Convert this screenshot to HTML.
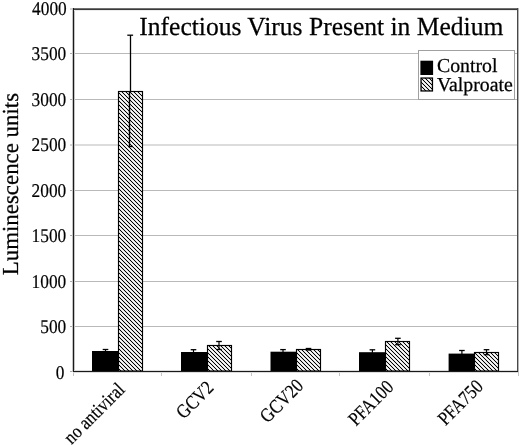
<!DOCTYPE html><html><head><meta charset="utf-8"><style>html,body{margin:0;padding:0;background:#fff;width:520px;height:445px;overflow:hidden}svg{display:block;filter:grayscale(1)}text{font-family:"Liberation Serif",serif;fill:#000;text-rendering:geometricPrecision;stroke:#000;stroke-width:0.25px}</style></head><body>
<svg width="520" height="445" viewBox="0 0 520 445">
<defs><pattern id="h0" width="4" height="4" patternUnits="userSpaceOnUse" patternTransform="translate(3,0)"><rect width="4" height="4" fill="#fff"/><rect x="0" y="0" width="1" height="1" fill="#000"/><rect x="1" y="0" width="1" height="1" fill="#dadada"/><rect x="3" y="0" width="1" height="1" fill="#dadada"/><rect x="1" y="1" width="1" height="1" fill="#000"/><rect x="2" y="1" width="1" height="1" fill="#dadada"/><rect x="0" y="1" width="1" height="1" fill="#dadada"/><rect x="2" y="2" width="1" height="1" fill="#000"/><rect x="3" y="2" width="1" height="1" fill="#dadada"/><rect x="1" y="2" width="1" height="1" fill="#dadada"/><rect x="3" y="3" width="1" height="1" fill="#000"/><rect x="0" y="3" width="1" height="1" fill="#dadada"/><rect x="2" y="3" width="1" height="1" fill="#dadada"/></pattern><pattern id="h1" width="4" height="4" patternUnits="userSpaceOnUse" patternTransform="translate(118,0)"><rect width="4" height="4" fill="#fff"/><rect x="0" y="0" width="1" height="1" fill="#000"/><rect x="1" y="0" width="1" height="1" fill="#dadada"/><rect x="3" y="0" width="1" height="1" fill="#dadada"/><rect x="1" y="1" width="1" height="1" fill="#000"/><rect x="2" y="1" width="1" height="1" fill="#dadada"/><rect x="0" y="1" width="1" height="1" fill="#dadada"/><rect x="2" y="2" width="1" height="1" fill="#000"/><rect x="3" y="2" width="1" height="1" fill="#dadada"/><rect x="1" y="2" width="1" height="1" fill="#dadada"/><rect x="3" y="3" width="1" height="1" fill="#000"/><rect x="0" y="3" width="1" height="1" fill="#dadada"/><rect x="2" y="3" width="1" height="1" fill="#dadada"/></pattern><pattern id="h2" width="4" height="4" patternUnits="userSpaceOnUse" patternTransform="translate(207,0)"><rect width="4" height="4" fill="#fff"/><rect x="0" y="0" width="1" height="1" fill="#000"/><rect x="1" y="0" width="1" height="1" fill="#dadada"/><rect x="3" y="0" width="1" height="1" fill="#dadada"/><rect x="1" y="1" width="1" height="1" fill="#000"/><rect x="2" y="1" width="1" height="1" fill="#dadada"/><rect x="0" y="1" width="1" height="1" fill="#dadada"/><rect x="2" y="2" width="1" height="1" fill="#000"/><rect x="3" y="2" width="1" height="1" fill="#dadada"/><rect x="1" y="2" width="1" height="1" fill="#dadada"/><rect x="3" y="3" width="1" height="1" fill="#000"/><rect x="0" y="3" width="1" height="1" fill="#dadada"/><rect x="2" y="3" width="1" height="1" fill="#dadada"/></pattern><pattern id="h3" width="4" height="4" patternUnits="userSpaceOnUse" patternTransform="translate(296,0)"><rect width="4" height="4" fill="#fff"/><rect x="0" y="0" width="1" height="1" fill="#000"/><rect x="1" y="0" width="1" height="1" fill="#dadada"/><rect x="3" y="0" width="1" height="1" fill="#dadada"/><rect x="1" y="1" width="1" height="1" fill="#000"/><rect x="2" y="1" width="1" height="1" fill="#dadada"/><rect x="0" y="1" width="1" height="1" fill="#dadada"/><rect x="2" y="2" width="1" height="1" fill="#000"/><rect x="3" y="2" width="1" height="1" fill="#dadada"/><rect x="1" y="2" width="1" height="1" fill="#dadada"/><rect x="3" y="3" width="1" height="1" fill="#000"/><rect x="0" y="3" width="1" height="1" fill="#dadada"/><rect x="2" y="3" width="1" height="1" fill="#dadada"/></pattern><pattern id="h4" width="4" height="4" patternUnits="userSpaceOnUse" patternTransform="translate(385,0)"><rect width="4" height="4" fill="#fff"/><rect x="0" y="0" width="1" height="1" fill="#000"/><rect x="1" y="0" width="1" height="1" fill="#dadada"/><rect x="3" y="0" width="1" height="1" fill="#dadada"/><rect x="1" y="1" width="1" height="1" fill="#000"/><rect x="2" y="1" width="1" height="1" fill="#dadada"/><rect x="0" y="1" width="1" height="1" fill="#dadada"/><rect x="2" y="2" width="1" height="1" fill="#000"/><rect x="3" y="2" width="1" height="1" fill="#dadada"/><rect x="1" y="2" width="1" height="1" fill="#dadada"/><rect x="3" y="3" width="1" height="1" fill="#000"/><rect x="0" y="3" width="1" height="1" fill="#dadada"/><rect x="2" y="3" width="1" height="1" fill="#dadada"/></pattern><pattern id="h5" width="4" height="4" patternUnits="userSpaceOnUse" patternTransform="translate(474,0)"><rect width="4" height="4" fill="#fff"/><rect x="0" y="0" width="1" height="1" fill="#000"/><rect x="1" y="0" width="1" height="1" fill="#dadada"/><rect x="3" y="0" width="1" height="1" fill="#dadada"/><rect x="1" y="1" width="1" height="1" fill="#000"/><rect x="2" y="1" width="1" height="1" fill="#dadada"/><rect x="0" y="1" width="1" height="1" fill="#dadada"/><rect x="2" y="2" width="1" height="1" fill="#000"/><rect x="3" y="2" width="1" height="1" fill="#dadada"/><rect x="1" y="2" width="1" height="1" fill="#dadada"/><rect x="3" y="3" width="1" height="1" fill="#000"/><rect x="0" y="3" width="1" height="1" fill="#dadada"/><rect x="2" y="3" width="1" height="1" fill="#dadada"/></pattern></defs>
<line x1="74" y1="326.5" x2="517" y2="326.5" stroke="#b9b9b9" stroke-width="1"/>
<line x1="74" y1="281.5" x2="517" y2="281.5" stroke="#b9b9b9" stroke-width="1"/>
<line x1="74" y1="235.5" x2="517" y2="235.5" stroke="#b9b9b9" stroke-width="1"/>
<line x1="74" y1="190.5" x2="517" y2="190.5" stroke="#b9b9b9" stroke-width="1"/>
<line x1="74" y1="145.0" x2="517" y2="145.0" stroke="#b9b9b9" stroke-width="1"/>
<line x1="74" y1="99.5" x2="517" y2="99.5" stroke="#b9b9b9" stroke-width="1"/>
<line x1="74" y1="53.5" x2="517" y2="53.5" stroke="#b9b9b9" stroke-width="1"/>
<line x1="70" y1="326.5" x2="73" y2="326.5" stroke="#aaa" stroke-width="1"/>
<line x1="70" y1="281.5" x2="73" y2="281.5" stroke="#aaa" stroke-width="1"/>
<line x1="70" y1="235.5" x2="73" y2="235.5" stroke="#aaa" stroke-width="1"/>
<line x1="70" y1="190.5" x2="73" y2="190.5" stroke="#aaa" stroke-width="1"/>
<line x1="70" y1="145.0" x2="73" y2="145.0" stroke="#aaa" stroke-width="1"/>
<line x1="70" y1="99.5" x2="73" y2="99.5" stroke="#aaa" stroke-width="1"/>
<line x1="70" y1="53.5" x2="73" y2="53.5" stroke="#aaa" stroke-width="1"/>
<line x1="70" y1="9.0" x2="73" y2="9.0" stroke="#aaa" stroke-width="1"/>
<line x1="70" y1="371.5" x2="73" y2="371.5" stroke="#aaa" stroke-width="1"/>
<line x1="73.5" y1="372" x2="73.5" y2="376" stroke="#c4c4c4" stroke-width="1"/>
<line x1="161.5" y1="372" x2="161.5" y2="376" stroke="#c4c4c4" stroke-width="1"/>
<line x1="251.5" y1="372" x2="251.5" y2="376" stroke="#c4c4c4" stroke-width="1"/>
<line x1="339.5" y1="372" x2="339.5" y2="376" stroke="#c4c4c4" stroke-width="1"/>
<line x1="429.5" y1="372" x2="429.5" y2="376" stroke="#c4c4c4" stroke-width="1"/>
<line x1="518.5" y1="372" x2="518.5" y2="376" stroke="#c4c4c4" stroke-width="1"/>
<rect x="74" y="10" width="1" height="361" fill="#c4c4c4"/>
<rect x="74" y="370" width="443" height="1" fill="#dadada"/>
<rect x="73" y="10" width="444" height="1" fill="#ececec"/>
<rect x="418.5" y="50.5" width="96" height="49" fill="#fff" stroke="#a0a0a0" stroke-width="1"/>
<rect x="420.4" y="60.7" width="12.7" height="14.3" fill="#000"/>
<rect x="421.05" y="78.05" width="11.4" height="12.9" fill="url(#h0)" stroke="#000" stroke-width="1.3"/>
<text x="437" y="72.3" font-size="19.8">Control</text>
<text x="437" y="90.8" font-size="19.8">Valproate</text>
<rect x="92" y="351" width="26.5" height="20" fill="#000"/>
<rect x="118.5" y="91.5" width="24" height="279.5" fill="url(#h1)" stroke="#000" stroke-width="1.15"/>
<line x1="105.5" y1="349.5" x2="105.5" y2="351.5" stroke="#000" stroke-width="1.2"/>
<line x1="102.7" y1="349.5" x2="108.3" y2="349.5" stroke="#000" stroke-width="1.3"/>
<line x1="130.5" y1="35.2" x2="130.5" y2="92" stroke="#000" stroke-width="1.3"/>
<line x1="129.5" y1="91" x2="129.5" y2="146.5" stroke="#000" stroke-width="1.4"/>
<line x1="127.3" y1="35.2" x2="133.1" y2="35.2" stroke="#000" stroke-width="1.3"/>
<line x1="128" y1="146.5" x2="133" y2="146.5" stroke="#000" stroke-width="1.4"/>
<rect x="181" y="352" width="26.5" height="19" fill="#000"/>
<rect x="207.5" y="345.5" width="24" height="25.5" fill="url(#h2)" stroke="#000" stroke-width="1.15"/>
<line x1="193.5" y1="349.7" x2="193.5" y2="352.5" stroke="#000" stroke-width="1.2"/>
<line x1="190.7" y1="349.7" x2="196.3" y2="349.7" stroke="#000" stroke-width="1.3"/>
<line x1="219" y1="341.5" x2="219" y2="349.5" stroke="#000" stroke-width="1.2"/>
<line x1="216.2" y1="341.5" x2="221.8" y2="341.5" stroke="#000" stroke-width="1.3"/>
<line x1="216.2" y1="349.5" x2="221.8" y2="349.5" stroke="#000" stroke-width="1.3"/>
<rect x="270.5" y="351.7" width="26.0" height="19.30000000000001" fill="#000"/>
<rect x="296.5" y="349.5" width="24" height="21.5" fill="url(#h3)" stroke="#000" stroke-width="1.15"/>
<line x1="283" y1="349.6" x2="283" y2="352.2" stroke="#000" stroke-width="1.2"/>
<line x1="280.2" y1="349.6" x2="285.8" y2="349.6" stroke="#000" stroke-width="1.3"/>
<line x1="308.5" y1="348.5" x2="308.5" y2="350" stroke="#000" stroke-width="1.2"/>
<line x1="305.7" y1="348.5" x2="311.3" y2="348.5" stroke="#000" stroke-width="1.3"/>
<line x1="305.7" y1="350" x2="311.3" y2="350" stroke="#000" stroke-width="1.3"/>
<rect x="359" y="352.2" width="26.5" height="18.80000000000001" fill="#000"/>
<rect x="385.5" y="341.5" width="24" height="29.5" fill="url(#h4)" stroke="#000" stroke-width="1.15"/>
<line x1="372.4" y1="349.8" x2="372.4" y2="352.7" stroke="#000" stroke-width="1.2"/>
<line x1="369.59999999999997" y1="349.8" x2="375.2" y2="349.8" stroke="#000" stroke-width="1.3"/>
<line x1="397.9" y1="338.3" x2="397.9" y2="344.7" stroke="#000" stroke-width="1.2"/>
<line x1="395.09999999999997" y1="338.3" x2="400.7" y2="338.3" stroke="#000" stroke-width="1.3"/>
<line x1="395.09999999999997" y1="344.7" x2="400.7" y2="344.7" stroke="#000" stroke-width="1.3"/>
<rect x="448.6" y="353.6" width="25.899999999999977" height="17.399999999999977" fill="#000"/>
<rect x="474.5" y="352.5" width="24" height="18.5" fill="url(#h5)" stroke="#000" stroke-width="1.15"/>
<line x1="461.9" y1="350.5" x2="461.9" y2="354.1" stroke="#000" stroke-width="1.2"/>
<line x1="459.09999999999997" y1="350.5" x2="464.7" y2="350.5" stroke="#000" stroke-width="1.3"/>
<line x1="486.5" y1="349.7" x2="486.5" y2="354.7" stroke="#000" stroke-width="1.2"/>
<line x1="483.7" y1="349.7" x2="489.3" y2="349.7" stroke="#000" stroke-width="1.3"/>
<line x1="483.7" y1="354.7" x2="489.3" y2="354.7" stroke="#000" stroke-width="1.3"/>
<rect x="73" y="8" width="445" height="1" fill="#707070"/>
<rect x="73" y="9" width="445" height="1" fill="#3a3a3a"/>
<rect x="517" y="8" width="1" height="364" fill="#484848"/>
<rect x="518" y="8" width="1" height="364" fill="#b4b4b4"/>
<rect x="72" y="8" width="1" height="364" fill="#c4c4c4"/>
<rect x="73" y="8" width="1" height="364" fill="#1a1a1a"/>
<rect x="73" y="372" width="445" height="1" fill="#dcdcdc"/>
<rect x="73" y="371" width="445" height="1" fill="#1a1a1a"/>
<text x="139.3" y="35.0" font-size="26" textLength="364" lengthAdjust="spacingAndGlyphs">Infectious Virus Present in Medium</text>
<text font-size="19.5" style="stroke-width:0.2px" text-anchor="end" transform="translate(64.36 378.83) scale(0.89 1)">0</text>
<text font-size="19.5" style="stroke-width:0.2px" text-anchor="end" transform="translate(66.26 333.08) scale(0.89 1)">500</text>
<text font-size="19.5" style="stroke-width:0.2px" text-anchor="end" transform="translate(66.26 288.08) scale(0.89 1)">1000</text>
<text font-size="19.5" style="stroke-width:0.2px" text-anchor="end" transform="translate(66.26 242.08) scale(0.89 1)">1500</text>
<text font-size="19.5" style="stroke-width:0.2px" text-anchor="end" transform="translate(66.26 196.88) scale(0.89 1)">2000</text>
<text font-size="19.5" style="stroke-width:0.2px" text-anchor="end" transform="translate(66.26 150.98) scale(0.89 1)">2500</text>
<text font-size="19.5" style="stroke-width:0.2px" text-anchor="end" transform="translate(66.26 106.08) scale(0.89 1)">3000</text>
<text font-size="19.5" style="stroke-width:0.2px" text-anchor="end" transform="translate(66.26 59.78) scale(0.89 1)">3500</text>
<text font-size="19.5" style="stroke-width:0.2px" text-anchor="end" transform="translate(66.76 14.88) scale(0.89 1)">4000</text>
<text transform="translate(17.7 275.3) rotate(-90)" font-size="22.9">Luminescence units</text>
<text transform="translate(125.8 390.7) rotate(-45) scale(0.86 1)" font-size="19.5" style="stroke-width:0.2px" text-anchor="end">no antiviral</text>
<text transform="translate(214.8 388.9) rotate(-45) scale(0.86 1)" font-size="19.5" style="stroke-width:0.2px" text-anchor="end">GCV2</text>
<text transform="translate(304.5 386.8) rotate(-45) scale(0.86 1)" font-size="19.5" style="stroke-width:0.2px" text-anchor="end">GCV20</text>
<text transform="translate(394.6 388.1) rotate(-45) scale(0.86 1)" font-size="19.5" style="stroke-width:0.2px" text-anchor="end">PFA100</text>
<text transform="translate(484.1 387.6) rotate(-45) scale(0.86 1)" font-size="19.5" style="stroke-width:0.2px" text-anchor="end">PFA750</text>
</svg></body></html>
